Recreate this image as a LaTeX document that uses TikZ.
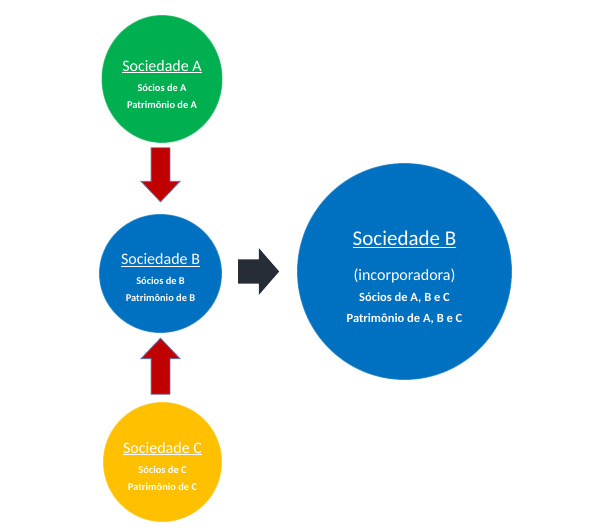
\documentclass[tikz,border=0pt]{standalone}
\usepackage{fontspec}
\setmainfont{Carlito}
\usetikzlibrary{shapes.geometric,shapes.arrows,calc}
\definecolor{socgreen}{HTML}{00B050}
\definecolor{socblue}{HTML}{0070C0}
\definecolor{socgold}{HTML}{FFC000}
\definecolor{arrowred}{HTML}{C00000}
\definecolor{arrowline}{HTML}{6E6EA0}
\definecolor{arrowdark}{HTML}{262D36}
\begin{document}
\begin{tikzpicture}[x=1pt,y=-1pt,
  soc/.style={ellipse, inner sep=0pt, draw=white, draw opacity=0.3, line width=1.2pt},
  soctext/.style={text=white, align=center, inner sep=0pt,
    font=\bfseries\fontsize{10.4}{17}\selectfont},
  bigtext/.style={soctext, font=\bfseries\fontsize{12.5}{21}\selectfont},
  redarrow/.style={single arrow, draw=arrowline, fill=arrowred, line width=0.8pt,
    minimum height=55pt, minimum width=38pt, single arrow head extend=10pt,
    single arrow tip angle=87, inner xsep=0pt, inner ysep=9pt, anchor=tip},
  darkarrow/.style={single arrow, fill=arrowdark, minimum height=41pt,
    minimum width=46pt, single arrow head extend=11pt,
    single arrow tip angle=98, inner xsep=0pt, inner ysep=12pt, anchor=tip}]
\useasboundingbox (0,0) rectangle (600,532);

% sociedades
\node [soc, fill=socgreen, minimum width=121pt, minimum height=128pt] (A) at (162,79) {};
\node [soc, fill=socblue, minimum width=123pt, minimum height=119pt] (B) at (160.5,273.5) {};
\node [soc, fill=socgold, minimum width=119pt, minimum height=120pt] (C) at (162.5,462) {};
\node [soctext] (Atext) at ($(A)+(0,5)$)
  {{\mdseries\fontsize{16}{17}\selectfont\underline{Sociedade A}}\\[3pt] Sócios de A\\ Patrimônio de A};
\node [soctext] (Btext) at ($(B)+(0,4)$)
  {{\mdseries\fontsize{16}{17}\selectfont\underline{Sociedade B}}\\[3pt] Sócios de B\\ Patrimônio de B};
\node [soctext] (Ctext) at ($(C)+(0,4)$)
  {{\mdseries\fontsize{16}{17}\selectfont\underline{Sociedade C}}\\[3pt] Sócios de C\\ Patrimônio de C};

% incorporadora
\node [soc, fill=socblue, minimum width=215pt, minimum height=217pt] (BB) at (404.5,271.5) {};
\node [bigtext] (BBtext) at ($(BB)+(0,6.5)$)
  {{\mdseries\fontsize{21}{21}\selectfont\underline{Sociedade B}}\\[14pt]
   {\mdseries\fontsize{16}{21}\selectfont(incorporadora)}\\ Sócios de A, B e C\\ Patrimônio de A, B e C};

% setas
\node [redarrow, rotate=-90, minimum height=54pt] (AtoB) at ($(B.north)+(0,-11)$) {};
\node [redarrow, rotate=90, minimum height=56pt] (CtoB) at ($(B.south)+(0,4)$) {};
\node [darkarrow] (BtoBB) at ($(BB.west)+(-17,0)$) {};
\end{tikzpicture}
\end{document}
